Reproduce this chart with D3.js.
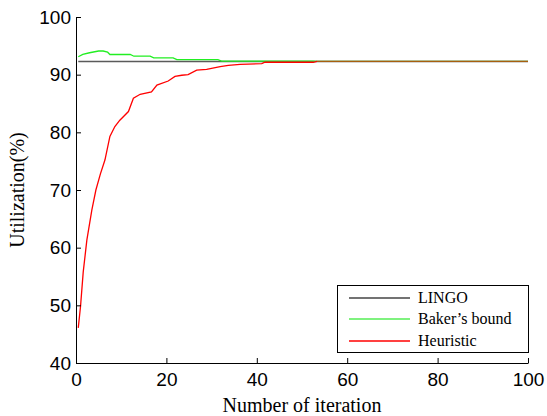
<!DOCTYPE html>
<html><head><meta charset="utf-8">
<script src="https://cdn.jsdelivr.net/npm/d3@7"></script>
<style>body{margin:0;background:#fff}svg{display:block}
.serif{font-family:"Liberation Serif","Times New Roman",Times,serif}
.sans{font-family:"Liberation Sans",Arial,Helvetica,sans-serif}</style>
</head><body>
<svg id="c" width="547" height="416"></svg>
<script>
const xTicks = [0,20,40,60,80,100];
const yTicks = [40,50,60,70,80,90,100];
const seriesNames = ["LINGO","Baker\u2019s bound","Heuristic"];
const lingoX = [0.5,100];
const lingoY = [92.3,92.3];
const bakerX = [0.5,1.5,3,5,6,7,7.5,12,12.8,16.4,17.2,21.5,22.3,31.4,32.2,52.5,53.3,100];
const bakerY = [93.1,93.5,93.8,94.1,94.1,93.9,93.5,93.5,93.2,93.2,92.9,92.9,92.6,92.6,92.35,92.35,92.3,92.3];
const heurX = [0.5,1.0,1.6,2.4,3.5,4.4,5.4,6.4,7.5,8.6,9.7,11.6,12.7,14.2,16.7,17.9,20.4,21.9,23.4,24.8,26.7,28.9,31.9,33.7,36.3,41.1,41.8,52.5,53.3,100];
const heurY = [46.1,49.8,55.8,61.3,66.5,70.0,72.8,75.2,79.3,81.0,82.1,83.6,85.9,86.6,87.0,88.2,88.9,89.7,89.9,90.0,90.8,90.9,91.4,91.6,91.8,91.9,92.15,92.15,92.3,92.3];
const mergeAt = 53.3;

const svg = d3.select("#c");
const L=76,R=528,T=17,B=363;
const x = d3.scaleLinear().domain([0,100]).range([L,R]);
const y = d3.scaleLinear().domain([40,100]).range([B,T]);
const line = d3.line().x(d=>x(d[0])).y(d=>y(d[1]));

const defs = svg.append("defs");
const g = defs.append("linearGradient").attr("id","hg").attr("gradientUnits","userSpaceOnUse")
  .attr("x1",L).attr("x2",R).attr("y1",0).attr("y2",0);
const off = (x(mergeAt)-L)/(R-L);
g.append("stop").attr("offset",off).attr("stop-color","#ff0000").attr("stop-opacity",1);
g.append("stop").attr("offset",off).attr("stop-color","#ff0000").attr("stop-opacity",0.6);

const colors = ["#5a5a5a","#22ee22","url(#hg)"];
const legendColors = ["#444","#55ee55","#ff0000"];
const data = [d3.zip(lingoX,lingoY), d3.zip(bakerX,bakerY), d3.zip(heurX,heurY)];
data.forEach((d,i)=>{
  svg.append("path").datum(d).attr("d",line).attr("fill","none")
    .attr("stroke",colors[i]).attr("stroke-width", i===0?1.5:1.3);
});

const ax = svg.append("g").attr("transform",`translate(0,${B})`)
  .call(d3.axisBottom(x).tickValues(xTicks).tickSizeInner(-5).tickSizeOuter(0).tickPadding(10));
const ay = svg.append("g").attr("transform",`translate(${L},0)`)
  .call(d3.axisLeft(y).tickValues(yTicks).tickSizeInner(-5).tickSizeOuter(0).tickPadding(5));
[ax,ay].forEach(a=>{
  a.attr("font-family",null).attr("font-size",null);
  a.select(".domain").attr("stroke","#000");
  a.selectAll("line").attr("stroke","#000");
  a.selectAll("text").attr("class","sans").style("font-size","19px").attr("fill","#000");
});
ax.selectAll("text").attr("dy","0.71em");

svg.append("text").attr("class","serif").attr("x",(L+R)/2).attr("y",412).attr("text-anchor","middle")
  .style("font-size","20px").text("Number of iteration");
svg.append("text").attr("class","serif").attr("transform",`translate(24,${(T+B)/2}) rotate(-90)`).attr("text-anchor","middle")
  .style("font-size","20px").text("Utilization(%)");

const lg = svg.append("g");
lg.append("rect").attr("x",337.5).attr("y",285.5).attr("width",191).attr("height",67)
  .attr("fill","#fff").attr("stroke","#000").attr("stroke-width",1);
const rows=[298,319,341];
seriesNames.forEach((n,i)=>{
  lg.append("line").attr("x1",349).attr("x2",410).attr("y1",rows[i]).attr("y2",rows[i])
    .attr("stroke",legendColors[i]).attr("stroke-width",1.3);
  lg.append("text").attr("class","serif").attr("x",418).attr("y",rows[i]+5)
    .style("font-size","16px").text(n);
});
</script>
</body></html>
